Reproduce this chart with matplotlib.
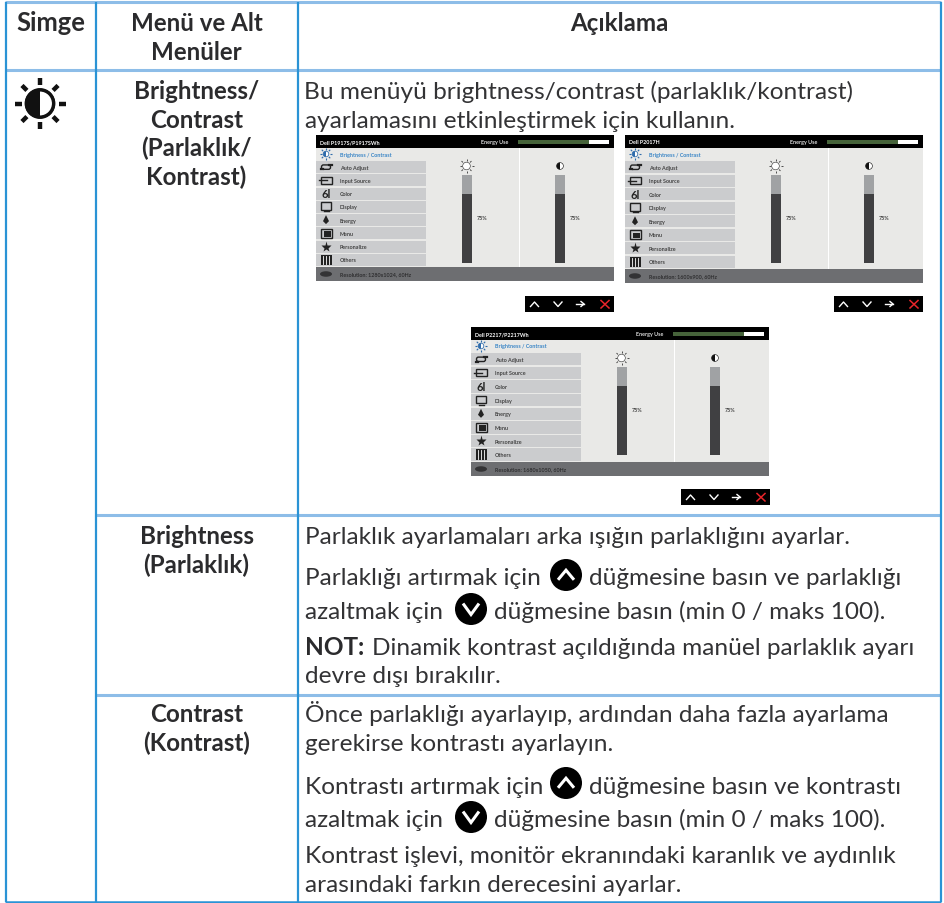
import math
import matplotlib
matplotlib.use("Agg")
import matplotlib.pyplot as plt
from matplotlib.patches import Rectangle, Circle, Polygon, Ellipse, FancyBboxPatch

plt.rcParams['font.family'] = ['Lato', 'DejaVu Sans']
W, H = 944, 904
fig = plt.figure(figsize=(W/100, H/100), dpi=100)
ax = fig.add_axes([0, 0, 1, 1])
ax.set_xlim(0, W); ax.set_ylim(H, 0); ax.axis('off')

TXT = '#2b2b2d'
LINE = '#2a93d5'
LIGHT = '#8dbde8'

# ---- content ----
headers = ['Simge', 'Menü ve Alt\nMenüler', 'Açıklama']
menu_titles = [['Brightness/', 'Contrast', '(Parlaklık/', 'Kontrast)'],
               ['Brightness', '(Parlaklık)'],
               ['Contrast', '(Kontrast)']]
menu_baselines = [[99, 127.5, 156.5, 185], [544, 573], [722.5, 751.5]]
body_lines = [
    (304.5, 99, 'Bu menüyü brightness/contrast (parlaklık/kontrast)'),
    (305, 127.5, 'ayarlamasını etkinleştirmek için kullanın.'),
    (305, 544, 'Parlaklık ayarlamaları arka ışığın parlaklığını ayarlar.'),
    (305, 585, 'Parlaklığı artırmak için'),
    (589, 585, 'düğmesine basın ve parlaklığı'),
    (305, 619, 'azaltmak için'),
    (494, 619, 'düğmesine basın (min 0 / maks 100).'),
    (372, 655, 'Dinamik kontrast açıldığında manüel parlaklık ayarı'),
    (305, 683.5, 'devre dışı bırakılır.'),
    (305, 722.5, 'Önce parlaklığı ayarlayıp, ardından daha fazla ayarlama'),
    (305, 751.5, 'gerekirse kontrastı ayarlayın.'),
    (305, 794, 'Kontrastı artırmak için'),
    (589, 794, 'düğmesine basın ve kontrastı'),
    (305, 827.5, 'azaltmak için'),
    (494, 827.5, 'düğmesine basın (min 0 / maks 100).'),
    (305, 863, 'Kontrast işlevi, monitör ekranındaki karanlık ve aydınlık'),
    (305, 892, 'arasındaki farkın derecesini ayarlar.'),
]
up_buttons = [(566, 576), (566, 784)]
down_buttons = [(471, 610), (471, 818)]
osd_menu = ['Auto Adjust', 'Input Source', 'Color', 'Display', 'Energy',
            'Menu', 'Personalize', 'Others']
osd_models = ['Dell P1917S/P1917SWh', 'Dell P2017H', 'Dell P2217/P2217Wh']
osd_res = ['Resolution: 1280x1024, 60Hz', 'Resolution: 1600x900, 60Hz',
           'Resolution: 1680x1050, 60Hz']
osd_label = '75%'
osd_fill = 78
energy_level = 78


def hline(y, x0, x1, c=LIGHT, lw=2.2):
    ax.plot([x0, x1], [y, y], color=c, lw=lw, solid_capstyle='butt', zorder=3)


def vline(x, y0, y1, c=LINE, lw=1.6):
    ax.plot([x, x], [y0, y1], color=c, lw=lw, solid_capstyle='butt', zorder=4)


# ---- grid ----
hline(3, 5, 941); hline(70.5, 5, 941)
hline(515.7, 95, 941); hline(695.5, 95, 941)
hline(903, 5, 941, c=LINE, lw=1.8)
for x in (5.5, 95.5, 297.5, 940.7):
    vline(x, 3, 903)

# ---- headers / titles ----
BSZ = 17.4
ax.text(50.5, 31, headers[0], ha='center', va='baseline', fontsize=BSZ+1, weight='bold', color=TXT)
ax.text(196.5, 31, 'Menü ve Alt', ha='center', va='baseline', fontsize=BSZ, weight='bold', color=TXT)
ax.text(196.5, 59.5, 'Menüler', ha='center', va='baseline', fontsize=BSZ, weight='bold', color=TXT)
ax.text(619, 31, headers[2], ha='center', va='baseline', fontsize=BSZ, weight='bold', color=TXT)
for lines, ys in zip(menu_titles, menu_baselines):
    for s, y in zip(lines, ys):
        ax.text(196.5, y, s, ha='center', va='baseline', fontsize=BSZ, weight='bold', color=TXT)

SZ = 17.6
for x, y, s in body_lines:
    ax.text(x, y, s, ha='left', va='baseline', fontsize=SZ, color='#333335')
ax.text(305, 655, 'NOT', ha='left', va='baseline', fontsize=SZ, weight='bold', color=TXT)
ax.text(358, 655, ':', ha='left', va='baseline', fontsize=SZ, weight='bold', color=TXT)


# ---- brightness glyph ----
def sun(cx, cy, r, tick0, tick1, lw, half=True, ec='#111111'):
    for a in range(0, 360, 45):
        c, s = math.cos(math.radians(a)), math.sin(math.radians(a))
        if tick1 > tick0:
            ax.plot([cx+c*tick0, cx+c*tick1], [cy+s*tick0, cy+s*tick1], color=ec, lw=lw,
                    solid_capstyle='butt', zorder=6)
    ax.add_patch(Circle((cx, cy), r, fc='white', ec=ec, lw=lw*0.7, zorder=6))
    if half:
        t = [(cx + r*math.cos(math.radians(d)), cy + r*math.sin(math.radians(d)))
             for d in range(90, 271, 10)]
        ax.add_patch(Polygon(t, fc=ec, ec=ec, lw=0, zorder=7))


sun(40, 104.5, 13.5, 18.5, 25.5, 3.2)
ax.add_patch(Circle((40, 104.5), 14, fc='none', ec='#111111', lw=2, zorder=7))


# ---- inline round buttons ----
def chevron(cx, cy, dx, dy, color, lw):
    ax.plot([cx-dx, cx, cx+dx], [cy+dy, cy-dy, cy+dy], color=color, lw=lw,
            solid_joinstyle='miter', solid_capstyle='butt', zorder=9)


for cx, cy in up_buttons:
    ax.add_patch(Circle((cx, cy), 16, fc='black', ec='none', zorder=8))
    chevron(cx, cy, 8, 4.8, 'white', 2.2)
for cx, cy in down_buttons:
    ax.add_patch(Circle((cx, cy), 16, fc='black', ec='none', zorder=8))
    chevron(cx, cy, 8, -5.5, 'white', 2.2)


# ---- OSD thumbnails ----
def rect(x, y, w, h, c, z=5):
    ax.add_patch(Rectangle((x, y), w, h, fc=c, ec='none', zorder=z))


def osd_icon(i, cx, cy):
    k = '#222222'
    if i == 0:   # auto adjust
        ax.add_patch(FancyBboxPatch((cx-4.5, cy-2.2), 9, 4.4, boxstyle='round,pad=0,rounding_size=2',
                                    fc='none', ec=k, lw=1, zorder=7))
        ax.plot([cx+3, cx+5.5], [cy-2.2, cy-2.2], color=k, lw=1.6, zorder=7)
        ax.plot([cx-5.5, cx-3], [cy+2.2, cy+2.2], color=k, lw=1.6, zorder=7)
    elif i == 1:  # input source
        ax.add_patch(Rectangle((cx-5, cy-3.5), 10.5, 7, fc='none', ec=k, lw=1, zorder=7))
        ax.plot([cx-7, cx+1], [cy, cy], color=k, lw=1, zorder=7)
    elif i == 2:  # colour
        ax.text(cx, cy, '6l', ha='center', va='center', fontsize=8, weight='bold', color=k, zorder=7)
    elif i == 3:  # display
        ax.add_patch(Rectangle((cx-5.3, cy-4.5), 10.6, 7.5, fc='none', ec=k, lw=1, zorder=7))
        ax.plot([cx-2.5, cx+2.5], [cy+4.5, cy+4.5], color=k, lw=1, zorder=7)
    elif i == 4:  # energy
        ax.add_patch(Polygon([(cx, cy-5), (cx+3, cy+1), (cx, cy+4), (cx-3, cy+1)], fc=k, ec='none', zorder=7))
    elif i == 5:  # menu
        ax.add_patch(Rectangle((cx-5.5, cy-4.5), 11, 9, fc='none', ec=k, lw=1, zorder=7))
        ax.add_patch(Rectangle((cx-2.5, cy-2), 7, 5.5, fc=k, ec='none', zorder=7))
    elif i == 6:  # personalize
        ax.plot([cx], [cy], marker='*', ms=8, color=k, mec='none', zorder=7)
    else:         # others
        ax.add_patch(Rectangle((cx-5.5, cy-5.2), 11, 10.5, fc=k, ec='none', zorder=7))
        for d in (-3, 0, 3):
            ax.plot([cx+d, cx+d], [cy-4.2, cy+4.5], color='white', lw=0.6, zorder=8)


def osd(x, y, h, model, res):
    w = 298
    foot = 14
    head = 13
    fs = 3.9
    rect(x, y, w, h, '#e9e9e7')
    rect(x, y, w, head, '#000000', 6)
    rect(x, y+h-foot, w, foot, '#6d6e71', 6)
    ax.text(x+4, y+6.7, model, fontsize=fs, weight='bold', color='white', va='center', zorder=7)
    ax.text(x+165, y+6.7, 'Energy Use', fontsize=fs, weight='bold', color='#dddddd', va='center', zorder=7)
    rect(x+202, y+4.7, 91, 4.3, 'white', 7)
    rect(x+202, y+4.7, 91*energy_level/100, 4.3, '#46633a', 8)
    # selected entry
    sun(x+10, y+19, 2.8, 4, 6, 0.8, ec='#2f6cab')
    ax.text(x+24, y+19, 'Brightness / Contrast', fontsize=fs, weight='bold', color='#3b86c6', va='center', zorder=7)
    row_h = (h - foot - head - 13) / 8
    for i, name in enumerate(osd_menu):
        ry = y + head + 13 + i*row_h
        rect(x, ry, 110, row_h-1.2, '#cbccce', 6)
        osd_icon(i, x+10, ry+row_h/2-0.5)
        ax.text(x+24, ry+row_h/2-0.5, name, fontsize=fs, weight='bold', color='#444444', va='center', zorder=7)
    ax.add_patch(Ellipse((x+10, y+h-7), 12, 5.5, fc='#333335', ec='none', zorder=7))
    ax.text(x+24, y+h-7, res, fontsize=fs, weight='bold', color='#2f2f31', va='center', zorder=7)
    # divider and level bars
    rect(x+203, y+head, 1.2, h-foot-head, 'white', 6)
    for bx, kind in ((x+146, 0), (x+239, 1)):
        top = y+40
        bot = y+128
        full = bot-top
        rect(bx, top, 10, full, '#a0a2a4', 6)
        rect(bx, bot-full*osd_fill/100, 10, full*osd_fill/100, '#404042', 7)
        ax.text(bx+15, y+83, osd_label, fontsize=fs, weight='bold', color='#444444', va='center', zorder=7)
        if kind == 0:
            sun(bx+4.5, y+31, 3.8, 5, 7, 0.6, half=False, ec='#333333')
        else:
            sun(bx+5, y+31, 3.4, 0, 0, 0.6, ec='#111111')


def buttons(x1, y):
    w, h = 89, 16
    x = x1-w
    rect(x, y, w, h, '#000000', 6)
    ax.plot([x+5.5, x+9.5, x+13.5], [y+10.5, y+6, y+10.5], color='white', lw=1, zorder=7)
    ax.plot([x+29, x+33, x+37], [y+6, y+10.5, y+6], color='white', lw=1, zorder=7)
    ax.plot([x+51, x+59], [y+8, y+8], color='white', lw=1, zorder=7)
    ax.plot([x+56, x+59, x+56], [y+5.5, y+8, y+10.5], color='white', lw=1, zorder=7)
    ax.plot([x+76, x+84], [y+4.5, y+12], color='#e8252a', lw=1.1, zorder=7)
    ax.plot([x+76, x+84], [y+12, y+4.5], color='#e8252a', lw=1.1, zorder=7)


osd(316, 136, 146, osd_models[0], osd_res[0]); buttons(614, 297)
osd(625, 136, 148, osd_models[1], osd_res[1]); buttons(923, 297)
osd(471, 328, 149, osd_models[2], osd_res[2]); buttons(770, 490)

fig.savefig('out.png', dpi=100, facecolor='white')
